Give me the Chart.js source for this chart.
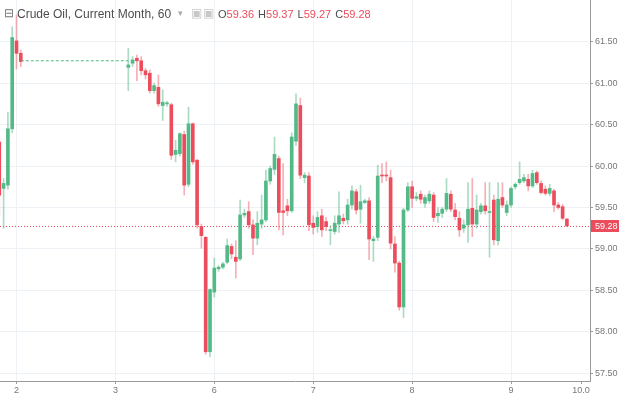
<!DOCTYPE html>
<html><head><meta charset="utf-8">
<script src="https://cdn.jsdelivr.net/npm/chart.js@4.4.0/dist/chart.umd.min.js"></script>
<style>
html,body{margin:0;padding:0;background:#fff;}
#wrap{position:relative;width:620px;height:393px;overflow:hidden;}
canvas{display:block;}
.h{position:absolute;white-space:nowrap;font-family:"Liberation Sans",Arial,sans-serif;color:#4d4d4d;}
#ic{left:4px;top:6px;font-size:12px;color:#777;}
#ttl{left:17px;top:7px;font-size:12px;}
#dd{left:178px;top:8px;font-size:9px;color:#aaa;}
#sq{left:191px;top:6px;font-size:12px;color:#c8c8c8;letter-spacing:1px;}
#ohlc{left:218px;top:8px;font-size:11px;}
#ohlc b{font-weight:normal;color:#eb4d5c;margin-right:4px;}
</style></head><body>
<div id="wrap">
<canvas id="c" width="620" height="393"></canvas>
<div class="h" id="ic">⊟</div>
<div class="h" id="ttl">Crude Oil, Current Month, 60</div>
<div class="h" id="dd">▾</div>
<div class="h" id="sq">▣▣</div>
<div class="h" id="ohlc"></div>
</div>
<script>
// hour slots (23 hourly bars per trading day; day "2" starts at slot 0)
const hours = [-4,-3,-2,-1,0,1,
  26,27,28,29,30,31,32,33,34,35,36,37,38,39,40,41,42,43,44,45,46,47,48,49,50,
  51,52,53,54,55,56,57,58,59,60,61,62,63,64,65,66,67,68,69,70,71,72,73,74,75,
  76,77,78,79,80,81,82,83,84,85,86,87,88,89,90,91,92,93,94,95,96,97,98,99,100,
  101,102,103,104,105,106,107,108,109,110,111,112,113,114,115,116,117,118,119,120,
  121,122,123,124,125,126,127,128];
const opens = [60.29,59.73,59.77,60.45,61.51,61.36,
  61.19,61.24,61.30,61.27,61.15,61.12,60.91,60.95,60.73,60.75,60.74,60.14,60.15,60.38,59.78,60.51,60.07,59.27,59.14,57.76,58.48,58.76,58.78,58.84,59.03,
  58.90,58.88,59.41,59.45,59.29,59.13,59.30,59.35,59.82,59.96,60.09,59.46,59.52,59.46,60.30,60.73,59.86,59.88,59.31,59.27,59.40,59.33,59.22,59.21,59.30,
  59.37,59.35,59.53,59.69,59.48,59.56,59.58,59.10,59.14,59.89,59.89,59.86,59.06,58.83,58.30,59.47,59.75,59.61,59.66,59.55,59.58,59.65,59.40,59.43,59.48,
  59.66,59.47,59.37,59.25,59.29,59.49,59.30,59.45,59.52,59.44,59.59,59.10,59.62,59.44,59.53,59.75,59.80,59.82,59.84,59.76,
  59.92,59.79,59.72,59.67,59.70,59.53,59.51,59.36];
const highs = [60.35,59.85,60.65,61.68,61.82,61.40,
  61.42,61.32,61.34,61.32,61.18,61.16,61.00,61.10,60.92,60.78,60.76,60.31,60.40,60.42,60.71,60.52,60.08,59.30,59.15,58.52,58.89,58.80,58.84,59.12,59.06,
  59.10,59.59,59.48,59.57,59.35,59.45,59.65,59.95,60.00,60.35,60.12,60.03,59.60,60.40,60.87,60.82,59.92,59.92,59.40,59.45,59.48,59.38,59.28,59.40,59.69,
  59.42,59.60,59.76,59.72,59.77,59.60,59.62,59.15,60.01,60.03,60.05,59.95,59.15,58.85,59.49,59.80,59.82,59.68,59.70,59.65,59.70,59.68,59.50,59.50,59.85,
  59.70,59.55,59.45,59.35,59.80,59.85,59.65,59.55,59.80,59.80,59.65,59.80,59.80,59.58,59.75,59.80,60.05,59.90,59.90,59.95,
  59.94,59.82,59.76,59.78,59.72,59.56,59.54,59.37];
const lows = [59.40,59.25,59.72,60.40,61.17,61.20,
  60.91,61.20,61.03,61.10,61.05,60.88,60.88,60.72,60.55,60.72,60.08,60.05,60.12,59.65,59.75,60.02,59.25,59.01,57.73,57.70,58.42,58.73,58.76,58.82,58.88,
  58.65,58.86,59.38,59.25,58.93,59.05,59.25,59.33,59.78,59.90,59.23,59.17,59.40,59.44,60.25,59.85,59.80,59.22,59.18,59.20,59.15,59.22,59.05,59.18,59.20,
  59.30,59.30,59.48,59.42,59.31,59.55,58.87,58.85,59.10,59.80,59.82,59.00,58.72,58.26,58.17,59.45,59.50,59.58,59.55,59.50,59.55,59.33,59.32,59.38,59.45,
  59.45,59.35,59.15,59.20,59.08,59.15,59.25,59.42,59.42,58.90,59.05,59.05,59.50,59.40,59.50,59.72,59.78,59.80,59.70,59.74,
  59.78,59.66,59.65,59.64,59.45,59.48,59.35,59.27];
const closes = [59.65,59.79,60.45,61.55,61.36,61.26,
  61.22,61.28,61.27,61.15,61.10,60.91,60.97,60.75,60.77,60.76,60.13,60.19,60.39,59.77,60.51,60.05,59.29,59.16,57.76,58.51,58.77,58.78,58.82,59.04,58.94,
  58.85,59.41,59.43,59.29,59.13,59.31,59.35,59.82,59.97,60.14,59.44,59.44,59.46,60.35,60.75,59.89,59.89,59.29,59.26,59.38,59.23,59.27,59.23,59.31,59.40,
  59.34,59.53,59.70,59.47,59.57,59.58,59.12,59.12,59.88,59.88,59.88,59.07,58.83,58.30,59.47,59.75,59.61,59.63,59.60,59.62,59.66,59.38,59.43,59.48,59.67,
  59.48,59.39,59.23,59.29,59.48,59.30,59.47,59.52,59.46,59.45,59.11,59.60,59.53,59.53,59.73,59.78,59.84,59.86,59.76,59.91,
  59.80,59.68,59.67,59.73,59.53,59.50,59.37,59.28];
const dayTicks  = [0,23,46,69,92,115,131.3];
const dayLabels = ['2','3','6','7','8','9','10.0'];
const priceTicks = [57.5,58,58.5,59,59.5,60,60.5,61,61.5];
const gapHours = [1,26];
const gapLevel = [61.27,61.27];

const UP='#53b987', DN='#eb4d5c';
const UPW='rgba(83,185,135,0.5)', DNW='rgba(235,77,92,0.45)';
const n = hours.length;
const isUp = i => closes[i] >= opens[i];
const last = n-1;
const fmt = v => v.toFixed(2);
document.getElementById('ohlc').innerHTML =
  'O<b>'+fmt(opens[last])+'</b>H<b>'+fmt(highs[last])+'</b>L<b>'+fmt(lows[last])+'</b>C<b>'+fmt(closes[last])+'</b>';

const bodies = hours.map((h,i)=>({x:h, y:[opens[i], closes[i]]}));
const wicks  = hours.map((h,i)=>({x:h, y:[lows[i], highs[i]]}));
const gap = gapHours.map((h,i)=>({x:h, y:gapLevel[i]}));

const GRID='#eef1f5', AX='#9a9a9a';
const priceLine = {
  id:'priceLine',
  beforeDatasetsDraw(chart){
    const {ctx, chartArea, scales:{y}} = chart;
    const py = Math.round(y.getPixelForValue(closes[last]))+0.5;
    ctx.save();
    ctx.strokeStyle=DN; ctx.lineWidth=1; ctx.setLineDash([1,2]);
    ctx.beginPath(); ctx.moveTo(chartArea.left,py); ctx.lineTo(chartArea.right,py); ctx.stroke();
    ctx.restore();
  },
  afterDraw(chart){
    const {ctx, chartArea, scales:{y}} = chart;
    const py = Math.round(y.getPixelForValue(closes[last]));
    ctx.save();
    ctx.fillStyle=DN;
    ctx.fillRect(chartArea.right+1, py-6, 28, 12);
    ctx.fillStyle='#fff';
    ctx.font='9px "Liberation Sans", Arial, sans-serif';
    ctx.textBaseline='middle'; ctx.textAlign='left';
    ctx.fillText(fmt(closes[last]), chartArea.right+5, py+0.5);
    ctx.restore();
  }
};

new Chart(document.getElementById('c'), {
  type:'bar',
  data:{datasets:[
    {type:'line', data:gap, borderColor:UP, borderWidth:1, borderDash:[3,2], pointRadius:0, order:1},
    {data:bodies, backgroundColor:hours.map((h,i)=>isUp(i)?UP:DN), barThickness:3, minBarLength:1, grouped:false, borderWidth:0, order:2},
    {data:wicks, backgroundColor:hours.map((h,i)=>isUp(i)?UPW:DNW), barThickness:1, grouped:false, borderWidth:0, order:3}
  ]},
  options:{
    responsive:false, animation:false, events:[],
    layout:{padding:0},
    plugins:{legend:{display:false}, tooltip:{enabled:false}, title:{display:false}},
    scales:{
      x:{type:'linear', min:-3.837, max:133.37, offset:false,
        afterBuildTicks:s=>{s.ticks=dayTicks.map(v=>({value:v}));},
        afterFit:s=>{s.height=12; s.paddingLeft=0; s.paddingRight=0;},
        grid:{offset:false, color:c=>c.index===dayTicks.length-1?'rgba(0,0,0,0)':GRID, tickColor:AX, tickLength:3},
        border:{display:true,color:AX},
        ticks:{color:'#777', font:{size:9,family:'"Liberation Sans", Arial, sans-serif'}, padding:1, maxRotation:0, autoSkip:false,
          callback:(v,i)=>dayLabels[i]}
      },
      y:{position:'right', min:57.407, max:62.003,
        afterBuildTicks:s=>{s.ticks=priceTicks.map(v=>({value:v}));},
        afterFit:s=>{s.width=30; s.paddingTop=0; s.paddingBottom=0;},
        grid:{offset:false, color:GRID, tickColor:AX, tickLength:3},
        border:{display:true,color:AX},
        ticks:{color:'#777', font:{size:9,family:'"Liberation Sans", Arial, sans-serif'}, padding:2, callback:v=>v.toFixed(2)}
      }
    }
  },
  plugins:[priceLine]
});
</script>
</body></html>
